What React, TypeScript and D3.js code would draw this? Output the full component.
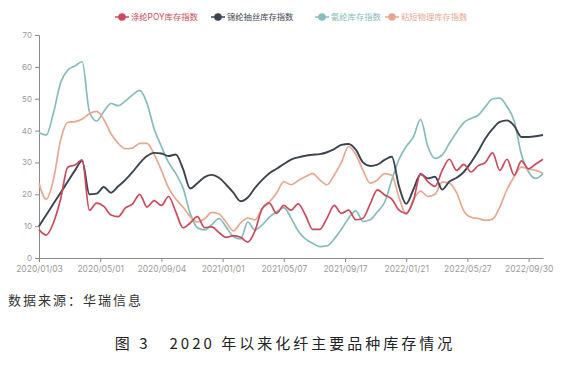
import { useEffect, useRef } from 'react';
import * as d3 from 'd3';

// biweekly samples, 2020/01/03 .. 2022/09/30 (+ a few weeks)
const seriesNames = ['涤纶POY库存指数', '锦纶抽丝库存指数', '氨纶库存指数', '粘短物理库存指数'];
const colors = ['#cc4a5a', '#3c4450', '#86bcbc', '#e6a890'];

const poy = [
  8.9, 7.2, 11, 18.5, 28.5, 29.2, 30.8, 15, 17.2, 16.2, 13.5, 13, 15.7, 17, 20, 16, 18, 16.5,
  19.3, 14.5, 9.5, 11, 13, 9.5, 9.8, 8, 6.5, 7, 6.5, 5, 8.5, 15.5, 17.2, 14, 16.5, 15, 17,
  13.5, 9, 9, 12.5, 16.5, 14, 15, 12, 12.5, 17, 21.4, 19.8, 18.5, 15, 14, 18, 26.5, 24, 22.5,
  27.5, 31, 27.5, 29.4, 27, 29, 30, 33, 27.5, 31, 26, 30.5, 28, 29.5, 31,
];
const nylon = [
  10, 13.5, 17, 20.5, 24, 27.5, 30.5, 20, 20.2, 22.3, 20.5, 22.5, 24.5, 27, 29.8, 32, 33, 32.8,
  32, 32.5, 28, 21.8, 23.5, 25.4, 26.1, 25.2, 23, 20.5, 17.8, 19, 22, 24.5, 26.6, 28, 29.5,
  30.9, 31.6, 32.1, 32.4, 32.6, 33.2, 34.2, 35.5, 35.8, 34, 30, 28.9, 29.3, 30.8, 31.8, 22.5,
  17, 21.5, 26.3, 25, 25.5, 21.5, 24, 25.2, 27, 30, 33.5, 37.5, 40.5, 42.7, 43.2, 41.5, 38, 38,
  38.2, 38.6,
];
const spandex = [
  39.3, 38.6, 45.5, 55, 59, 60.3, 61.6, 46, 43, 46, 48.5, 47.8, 49.3, 51.2, 52.6, 48.5, 40.5,
  35, 30, 26.5, 22, 14, 9.5, 8.8, 10.5, 12.4, 9.7, 6.7, 6, 11.3, 8.8, 10.4, 12.8, 14.5, 15.8,
  12.6, 8.5, 6, 4.6, 3.6, 3.8, 6, 9, 12.5, 14.8, 11.5, 12, 14.5, 17.5, 24.5, 31, 35, 38, 43.5,
  35, 31.3, 32.4, 36, 39.5, 42.5, 43.8, 44.8, 47.5, 50, 50.2, 47.5, 43, 32.5, 27, 25, 26.5,
];
const viscose = [
  23.5, 18.5, 24.5, 37, 42.6, 42.8, 43.6, 45.3, 46, 43.5, 39, 36, 34.3, 34.5, 36, 36, 32.5,
  27.5, 22, 18.5, 16, 13, 11.3, 12.3, 14.3, 13.8, 11.2, 8.5, 11, 12.5, 12, 15.5, 17.6, 20.4,
  24, 23, 24.3, 25.5, 26.5, 24.5, 23, 26, 30, 35, 32.5, 27.5, 23.5, 24.5, 26.5, 26, 19, 13.7,
  18.3, 21, 19.3, 20, 23.8, 23.5, 20.5, 14.8, 12.8, 12.4, 11.8, 12.2, 16, 21.5, 25.5, 28.5,
  27.9, 27.5, 26.6,
];
const tickLabels = [
  '2020/01/03', '2020/05/01', '2020/09/04', '2021/01/01', '2021/05/07',
  '2021/09/17', '2022/01/21', '2022/05/27', '2022/09/30',
];
const tickEvery = 17; // weeks between labels
const totalWeeks = 140;
const yTicks = [0, 10, 20, 30, 40, 50, 60, 70];

const App = () => {
  const ref = useRef<SVGSVGElement>(null);

  useEffect(() => {
    const width = 568;
    const height = 366;
    const left = 39;
    const right = 543;
    const top = 35;
    const bottom = 258;

    const svg = d3.select(ref.current);
    svg.selectAll('*').remove();
    svg.attr('width', width).attr('height', height);

    const x = d3.scaleLinear().domain([0, totalWeeks]).range([left, right]);
    const y = d3.scaleLinear().domain([0, 70]).range([bottom, top]);
    const font = 'Inter, "Noto Sans CJK SC", sans-serif';

    // y axis
    const yAxis = svg.append('g')
      .attr('transform', `translate(${left},0)`)
      .call(d3.axisLeft(y).tickValues(yTicks).tickSize(4).tickPadding(3));
    yAxis.select('.domain').attr('stroke', '#8a8a8a');
    yAxis.selectAll('line').attr('stroke', '#8a8a8a');
    yAxis.selectAll('text').attr('fill', '#9a9a9a').style('font-size', '8px').style('font-family', font);

    // x axis
    const xAxis = svg.append('g')
      .attr('transform', `translate(0,${bottom})`)
      .call(d3.axisBottom(x)
        .tickValues(tickLabels.map((_, i) => i * tickEvery))
        .tickFormat((_, i) => tickLabels[i])
        .tickSize(4)
        .tickSizeOuter(0)
        .tickPadding(4));
    xAxis.select('.domain').attr('stroke', '#8a8a8a');
    xAxis.selectAll('line').attr('stroke', '#8a8a8a');
    xAxis.selectAll('text').attr('fill', '#9a9a9a').style('font-size', '8.5px').style('font-family', font);

    const all = [poy, nylon, spandex, viscose];
    const line = d3.line<number>()
      .x((_, i) => x(i * 2))
      .y((d) => y(d))
      .curve(d3.curveMonotoneX);

    // draw order: spandex, viscose, nylon, poy on top
    [2, 3, 1, 0].forEach((s) => {
      svg.append('path')
        .datum(all[s])
        .attr('fill', 'none')
        .attr('stroke', colors[s])
        .attr('stroke-width', s === 1 ? 1.9 : 1.7)
        .attr('stroke-linejoin', 'round')
        .attr('d', line);
    });

    // legend
    const legendX = [122, 218, 322, 392];
    const legend = svg.append('g').style('font-family', font);
    seriesNames.forEach((name, i) => {
      const g = legend.append('g').attr('transform', `translate(${legendX[i]},17)`);
      g.append('line').attr('x1', -7).attr('x2', 7).attr('stroke', colors[i]).attr('stroke-width', 1.5);
      g.append('circle').attr('r', 3.8).attr('fill', colors[i]);
      g.append('text')
        .attr('x', 9)
        .attr('dy', '0.35em')
        .attr('fill', colors[i])
        .style('font-size', '8.3px')
        .text(name);
    });

    svg.append('text')
      .attr('x', 8)
      .attr('y', 305)
      .attr('fill', '#333')
      .style('font-size', '13px')
      .style('letter-spacing', '2px')
      .style('font-family', '"Noto Sans CJK SC", sans-serif')
      .text('数据来源：华瑞信息');

    svg.append('text')
      .attr('x', 285)
      .attr('y', 349)
      .attr('text-anchor', 'middle')
      .attr('fill', '#222')
      .style('font-size', '15px')
      .style('letter-spacing', '3px')
      .style('font-family', '"Noto Sans CJK SC", sans-serif')
      .attr('xml:space', 'preserve')
      .text('图 3   2020 年以来化纤主要品种库存情况');
  }, []);

  return <svg ref={ref} style={{ position: 'absolute', left: 0, top: 0, background: '#fff' }}></svg>;
};

export default App;
